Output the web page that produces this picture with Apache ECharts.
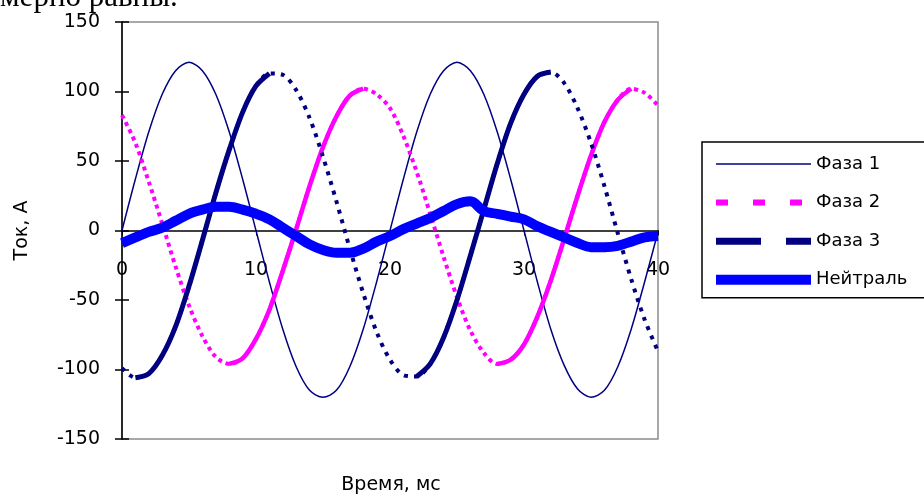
<!DOCTYPE html>
<html><head><meta charset="utf-8">
<script src="https://cdn.jsdelivr.net/npm/echarts@6/dist/echarts.min.js"></script>
<style>html,body{margin:0;padding:0;background:#fff}#c{width:924px;height:496px}</style>
</head><body><div id="c"></div>
<script>
// time, ms
const times = [0,1,2,3,4,5,6,7,8,9,10,11,12,13,14,15,16,17,18,19,20,21,22,23,24,25,26,27,28,29,30,31,32,33,34,35,36,37,38,39,40];
// current, A
const phase1 = [0,37,71,98,115,121,115,98,71,37,0,-37,-71,-98,-115,-120,-115,-98,-71,-37,0,37,71,98,115,121,115,98,71,37,0,-37,-71,-97,-114,-120,-115,-98,-71,-37,-1];
const phase2 = [83,63,35,5,-26,-54,-76,-91,-96,-92,-78,-57,-29,1,32,60,82,97,102,98,88,68,42,12,-19,-48,-72,-88,-96,-93,-82,-62,-36,-6,25,54,78,94,102,99,90];
const phase3 = [-99,-106,-103,-90,-69,-40,-7,27,58,85,104,113,112,101,81,53,21,-13,-45,-73,-93,-104,-105,-96,-77,-50,-18,15,48,77,98,111,114,106,88,63,32,-2,-35,-64,-87];
const neutral = [-9,-5,-1,2,7,12,15,17,17,15,12,8,2,-4,-10,-14,-16,-16,-13,-8,-4,1,5,9,14,19,21,14,12,10,8,3,-1,-5,-9,-12,-12,-11,-8,-5,-4];
const seriesNames = ['Фаза 1','Фаза 2','Фаза 3','Нейтраль'];
const yTicks = [-150,-100,-50,0,50,100,150];
const xTicks = [0,10,20,30,40];
const xTitle = 'Время, мс';
const yTitle = 'Ток, А';
const topText = 'мерно равны.';

const FONT = '"DejaVu Sans", Verdana, sans-serif';
const pairs = arr => times.map((t,i)=>[t,arr[i]]);
// rising portions (drawn solid, as in the original rendering)
const rising = arr => times.map((t,i)=>{
  const up = (i<arr.length-1 && arr[i+1]>arr[i]) || (i>0 && arr[i]>arr[i-1]);
  return [t, up ? arr[i] : null];
});

const GRID_TOP = 22, GRID_BOTTOM = 57, H = 496;
const plotH = H - GRID_TOP - GRID_BOTTOM;
const yMin = yTicks[0], yMax = yTicks[yTicks.length-1];
// place the time axis on the zero line (labels follow it)
const zeroOffset = -plotH * (0 - yMin) / (yMax - yMin);

const noDot = {color:'rgba(0,0,0,0)', borderWidth:0, opacity:0};
const chart = echarts.init(document.getElementById('c'), null, {renderer:'canvas'});
const axisBase = {color:'#000', fontSize:19, fontFamily:FONT};
chart.setOption({
  animation:false,
  backgroundColor:'#fff',
  grid:{left:122,right:266,top:GRID_TOP,bottom:GRID_BOTTOM,show:true,borderColor:'#8c8c8c',borderWidth:1.5,backgroundColor:'transparent'},
  legend:{
    orient:'vertical', left:702, top:142,
    padding:[12,40,8,9],
    borderColor:'#000', borderWidth:1.5, backgroundColor:'#fff',
    itemWidth:95, itemHeight:14, itemGap:18.6,
    textStyle:{color:'#000',fontSize:18,fontFamily:FONT,lineHeight:20},
    selectedMode:false,
    data:[
      {name:seriesNames[0], itemStyle:noDot, lineStyle:{width:1.5,type:'solid'}},
      {name:seriesNames[1], itemStyle:noDot, lineStyle:{width:6,type:[12,25]}},
      {name:seriesNames[2], itemStyle:noDot, lineStyle:{width:7,type:[45,25]}},
      {name:seriesNames[3], itemStyle:noDot, lineStyle:{width:10,type:'solid'}}
    ]
  },
  xAxis:{
    type:'value', min:xTicks[0], max:xTicks[xTicks.length-1], interval:10,
    offset:zeroOffset,
    axisLine:{onZero:false,lineStyle:{color:'#000',width:1.5}},
    axisTick:{show:true,length:5,lineStyle:{color:'#000'}},
    axisLabel:Object.assign({margin:30,showMinLabel:true,showMaxLabel:true}, axisBase),
    splitLine:{show:false}
  },
  yAxis:[{
    type:'value', min:yMin, max:yMax, interval:50,
    name:yTitle, nameLocation:'middle', nameRotate:90, nameGap:90,
    nameTextStyle:{color:'#000',fontSize:19,fontFamily:FONT},
    axisLine:{show:true,lineStyle:{color:'#000',width:1.5}},
    axisTick:{show:true,length:7,lineStyle:{color:'#000',width:1.5}},
    axisLabel:Object.assign({margin:22}, axisBase),
    splitLine:{show:false}
  },{
    type:'value', min:yMin, max:yMax, interval:50, position:'left', offset:0,
    axisLine:{show:false},
    axisTick:{show:true,inside:true,length:7,lineStyle:{color:'#000',width:1.5}},
    axisLabel:{show:false}, splitLine:{show:false}
  }],
  graphic:[
    {type:'text', style:{x:391,y:485,text:xTitle,fontSize:19,fontFamily:FONT,fill:'#000',align:'center',verticalAlign:'middle'}},
    {type:'text', style:{x:0,y:-2,text:topText,fontSize:31,fontFamily:'"Liberation Serif", "Times New Roman", serif',fill:'#000',align:'left',verticalAlign:'middle'}}
  ],
  series:[
    {name:seriesNames[0], type:'line', data:pairs(phase1), symbol:'none', smooth:0.3,
     lineStyle:{color:'#000080',width:1.5}, itemStyle:{color:'#000080'}, z:2},
    {name:seriesNames[1], type:'line', data:pairs(phase2), symbol:'none', smooth:0.3,
     lineStyle:{color:'#ff00ff',width:4,type:[4,4]}, itemStyle:{color:'#ff00ff'}, z:3},
    {name:'_p2r', type:'line', data:rising(phase2), symbol:'none', smooth:0.3, connectNulls:false,
     lineStyle:{color:'#ff00ff',width:4.5}, itemStyle:{color:'#ff00ff'}, z:3, silent:true},
    {name:seriesNames[2], type:'line', data:pairs(phase3), symbol:'none', smooth:0.3,
     lineStyle:{color:'#000080',width:4,type:[4,6]}, itemStyle:{color:'#000080'}, z:4},
    {name:'_p3r', type:'line', data:rising(phase3), symbol:'none', smooth:0.3, connectNulls:false,
     lineStyle:{color:'#000080',width:5}, itemStyle:{color:'#000080'}, z:4, silent:true},
    {name:seriesNames[3], type:'line', data:pairs(neutral), symbol:'none', smooth:0.35,
     lineStyle:{color:'#0000ff',width:10}, itemStyle:{color:'#0000ff'}, z:5}
  ]
});
</script>
</body></html>
